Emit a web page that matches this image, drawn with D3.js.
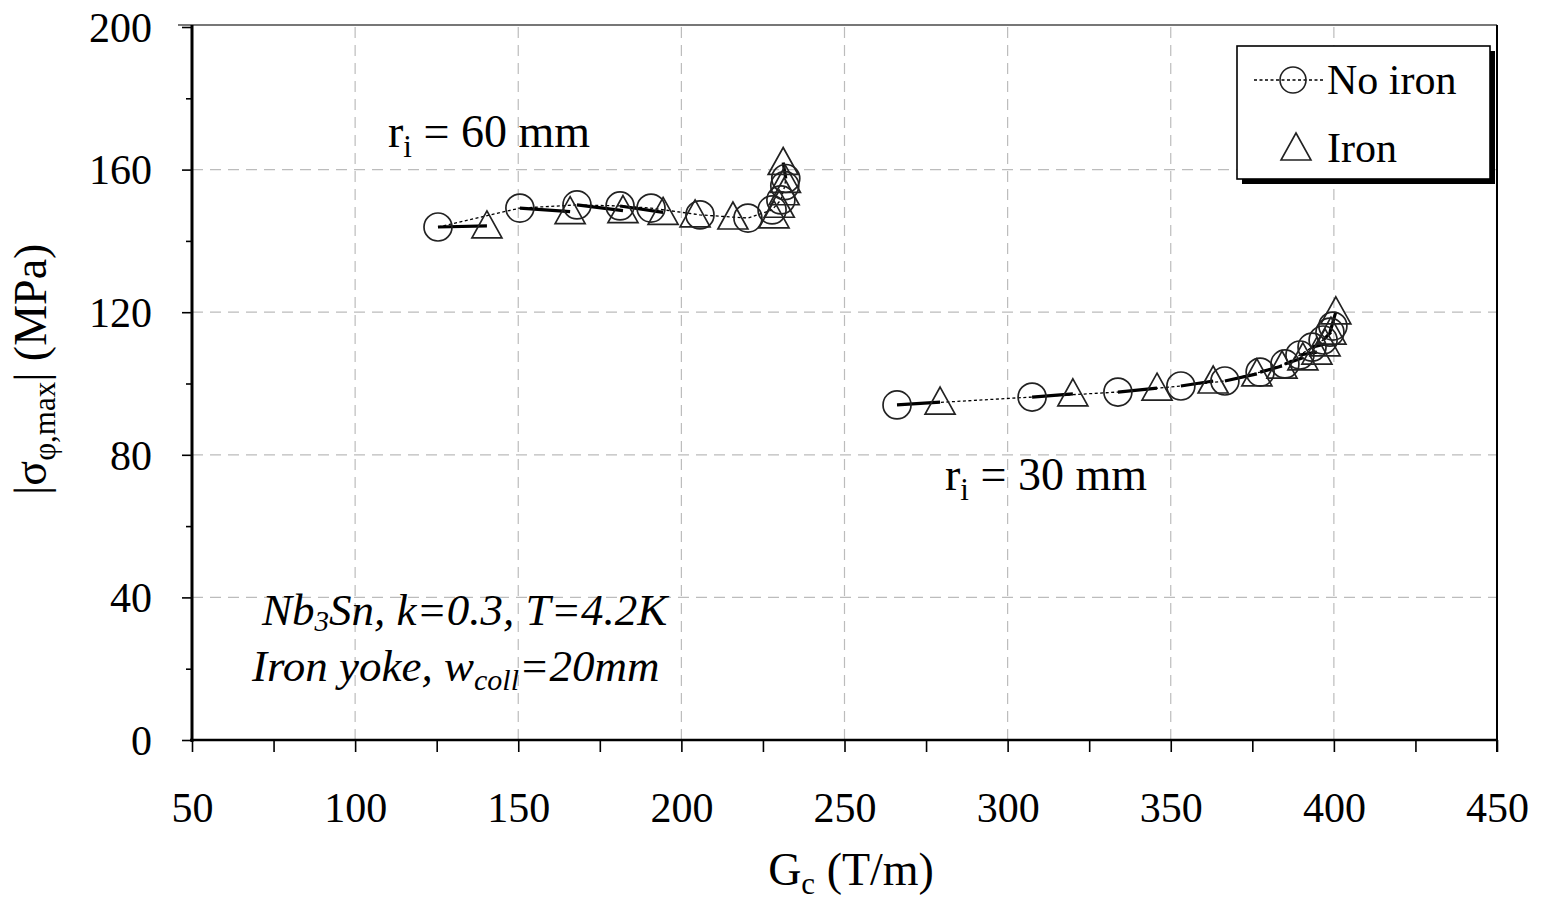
<!DOCTYPE html>
<html>
<head>
<meta charset="utf-8">
<title>sigma vs Gc</title>
<script src="https://cdnjs.cloudflare.com/ajax/libs/d3/7.8.5/d3.min.js"></script>
<style>
  body { margin: 0; background: #fff; }
  text { font-family: "Liberation Serif", "Times New Roman", serif; fill: #000; }
  .grid line { stroke: #bcbcbc; stroke-width: 1.2; stroke-dasharray: 11,7; }
  .axis path { display: none; }
  .axis line { stroke: #000; stroke-width: 1.6; }
</style>
</head>
<body>
<div id="chart"></div>
<script>
// tick values
var xTicks = [50, 100, 150, 200, 250, 300, 350, 400, 450];
var xMinor = [75, 125, 175, 225, 275, 325, 375, 425];
var yTicks = [0, 40, 80, 120, 160, 200];
var yMinor = [20, 60, 100, 140, 180];

// r_i = 60 mm
var noIron60X = [125.4, 150.5, 168.0, 181.2, 190.7, 205.7, 220.4, 227.8, 230.5, 231.7, 232.0];
var noIron60Y = [143.9, 149.2, 150.1, 149.8, 149.2, 147.3, 146.4, 148.7, 151.5, 155.5, 157.5];
var iron60X   = [140.4, 165.9, 182.1, 194.4, 204.2, 215.8, 228.4, 230.0, 231.5, 231.9, 231.2];
var iron60Y   = [144.2, 148.2, 148.5, 148.0, 147.3, 146.7, 147.0, 150.0, 153.5, 157.0, 162.0];
var links60   = [0, 1, 2, 3, 10];

// r_i = 30 mm
var noIron30X = [266.1, 307.5, 333.8, 353.1, 366.6, 377.4, 385.0, 389.6, 393.3, 396.7, 398.8, 399.7];
var noIron30Y = [94.0, 96.2, 97.6, 99.3, 100.7, 103.2, 105.5, 108.0, 110.2, 112.2, 114.4, 116.1];
var iron30X   = [279.3, 320.0, 345.8, 363.0, 376.4, 384.1, 390.5, 394.8, 397.3, 399.1, 400.6];
var iron30Y   = [94.8, 97.1, 98.7, 100.7, 102.7, 104.9, 107.2, 108.8, 111.1, 114.4, 120.1];
var links30   = [0, 1, 2, 3, 4, 5, 6, 7, 8, 9, 10];

var W = 1545, H = 900;
var margin = {top: 27, right: 48, bottom: 160, left: 192};
var width = W - margin.left - margin.right,
    height = H - margin.top - margin.bottom;

var svg = d3.select("#chart").append("svg")
    .attr("width", W).attr("height", H)
  .append("g")
    .attr("transform", "translate(" + margin.left + "," + margin.top + ")");

var x = d3.scaleLinear().domain([50, 450]).range([0, width]);
var y = d3.scaleLinear().domain([0, 200]).range([height, 0]);

// grid
svg.append("g").attr("class", "grid")
  .selectAll("line").data(xTicks.slice(1, -1)).enter().append("line")
    .attr("x1", d => x(d)).attr("x2", d => x(d))
    .attr("y1", 0).attr("y2", height);
svg.append("g").attr("class", "grid")
  .selectAll("line").data(yTicks.slice(1, -1)).enter().append("line")
    .attr("x1", 0).attr("x2", width)
    .attr("y1", d => y(d)).attr("y2", d => y(d));

// frame top / right
svg.append("line").attr("x1", -14).attr("x2", width).attr("y1", -2).attr("y2", -2)
  .attr("stroke", "#777").attr("stroke-width", 2);
svg.append("line").attr("x1", width).attr("x2", width).attr("y1", -2).attr("y2", height + 12)
  .attr("stroke", "#000").attr("stroke-width", 2);

// x axis
var gx = svg.append("g").attr("class", "axis")
  .attr("transform", "translate(0," + height + ")")
  .call(d3.axisBottom(x).tickValues(xTicks).tickSize(12).tickFormat(d3.format("d")));
gx.selectAll("text").attr("y", 82).attr("dy", 0).style("font-size", "42px");
svg.append("g").attr("class", "axis")
  .attr("transform", "translate(0," + height + ")")
  .call(d3.axisBottom(x).tickValues(xMinor).tickSize(12).tickFormat(""));
svg.append("line").attr("x1", -2).attr("x2", width).attr("y1", height).attr("y2", height)
  .attr("stroke", "#000").attr("stroke-width", 2.5);

// y axis
var gy = svg.append("g").attr("class", "axis")
  .call(d3.axisLeft(y).tickValues(yTicks).tickSize(10).tickPadding(30).tickFormat(d3.format("d")));
gy.selectAll("text").attr("dy", "0.34em").style("font-size", "42px");
svg.append("g").attr("class", "axis")
  .call(d3.axisLeft(y).tickValues(yMinor).tickSize(6).tickFormat(""));
svg.append("line").attr("x1", 0).attr("x2", 0).attr("y1", -2).attr("y2", height + 2)
  .attr("stroke", "#000").attr("stroke-width", 3);

// axis titles
var xt = svg.append("text").attr("x", x(252)).attr("y", 858).attr("text-anchor", "middle")
  .style("font-size", "46px");
xt.append("tspan").text("G");
xt.append("tspan").attr("dy", 9).style("font-size", "31px").text("c");
xt.append("tspan").attr("dy", -9).text(" (T/m)");

var yt = svg.append("text")
  .attr("transform", "translate(" + (-146) + "," + (y(104)) + ") rotate(-90)")
  .attr("text-anchor", "middle").style("font-size", "46px");
yt.append("tspan").text("|σ");
yt.append("tspan").attr("dy", 9).style("font-size", "31px").text("φ,max");
yt.append("tspan").attr("dy", -9).text("| (MPa)");

// helper
function pts(xs, ys) { return xs.map((v, i) => [x(v), y(ys[i])]); }
var tri = function(p) {
  return "M" + p[0] + "," + (p[1] - 15) + "L" + (p[0] + 15) + "," + (p[1] + 12) +
         "L" + (p[0] - 15) + "," + (p[1] + 12) + "Z";
};
var dotted = d3.line();

function drawGroup(nx, ny, ix, iy, links) {
  var c = pts(nx, ny), t = pts(ix, iy);
  svg.append("path").attr("d", dotted(c)).attr("fill", "none")
    .attr("stroke", "#000").attr("stroke-width", 1.3).attr("stroke-dasharray", "3,2.5");
  svg.append("g").selectAll("line").data(links).enter().append("line")
    .attr("x1", i => c[i][0]).attr("y1", i => c[i][1])
    .attr("x2", i => t[i][0]).attr("y2", i => t[i][1])
    .attr("stroke", "#000").attr("stroke-width", 3.2);
  svg.append("g").selectAll("circle").data(c).enter().append("circle")
    .attr("cx", d => d[0]).attr("cy", d => d[1]).attr("r", 14)
    .attr("fill", "none").attr("stroke", "#222").attr("stroke-width", 1.7);
  svg.append("g").selectAll("path").data(t).enter().append("path")
    .attr("d", tri).attr("fill", "none").attr("stroke", "#222").attr("stroke-width", 1.7);
}
drawGroup(noIron60X, noIron60Y, iron60X, iron60Y, links60);
drawGroup(noIron30X, noIron30Y, iron30X, iron30Y, links30);

// annotations
function rLabel(px, py, val) {
  var t = svg.append("text").attr("x", px).attr("y", py).style("font-size", "46px");
  t.append("tspan").text("r");
  t.append("tspan").attr("dy", 10).style("font-size", "31px").text("i");
  t.append("tspan").attr("dy", -10).text(" = " + val + " mm");
}
rLabel(388 - margin.left, 147 - margin.top, 60);
rLabel(945 - margin.left, 490 - margin.top, 30);

var a1 = svg.append("text").attr("x", 262 - margin.left).attr("y", 625 - margin.top)
  .style("font-size", "45px").style("font-style", "italic");
a1.append("tspan").text("Nb");
a1.append("tspan").attr("dy", 6).style("font-size", "29px").text("3");
a1.append("tspan").attr("dy", -6).text("Sn, k=0.3, T=4.2K");
var a2 = svg.append("text").attr("x", 252 - margin.left).attr("y", 681 - margin.top)
  .style("font-size", "45px").style("font-style", "italic");
a2.append("tspan").text("Iron yoke, w");
a2.append("tspan").attr("dy", 9).style("font-size", "30px").text("coll");
a2.append("tspan").attr("dy", -9).text("=20mm");

// legend
var lg = svg.append("g").attr("transform", "translate(" + (1237 - margin.left) + "," + (46 - margin.top) + ")");
lg.append("rect").attr("x", 5).attr("y", 5).attr("width", 253).attr("height", 133).attr("fill", "#000");
lg.append("rect").attr("width", 253).attr("height", 133).attr("fill", "#fff")
  .attr("stroke", "#000").attr("stroke-width", 1.6);
lg.append("line").attr("x1", 17).attr("x2", 88).attr("y1", 34).attr("y2", 34)
  .attr("stroke", "#000").attr("stroke-width", 1.3).attr("stroke-dasharray", "3,2.5");
lg.append("circle").attr("cx", 56).attr("cy", 34).attr("r", 13)
  .attr("fill", "none").attr("stroke", "#222").attr("stroke-width", 1.6);
lg.append("path").attr("d", tri([59, 102])).attr("fill", "none").attr("stroke", "#222").attr("stroke-width", 1.6);
lg.append("text").attr("x", 90).attr("y", 48).style("font-size", "42px").text("No iron");
lg.append("text").attr("x", 90).attr("y", 116).style("font-size", "42px").text("Iron");
</script>
</body>
</html>
